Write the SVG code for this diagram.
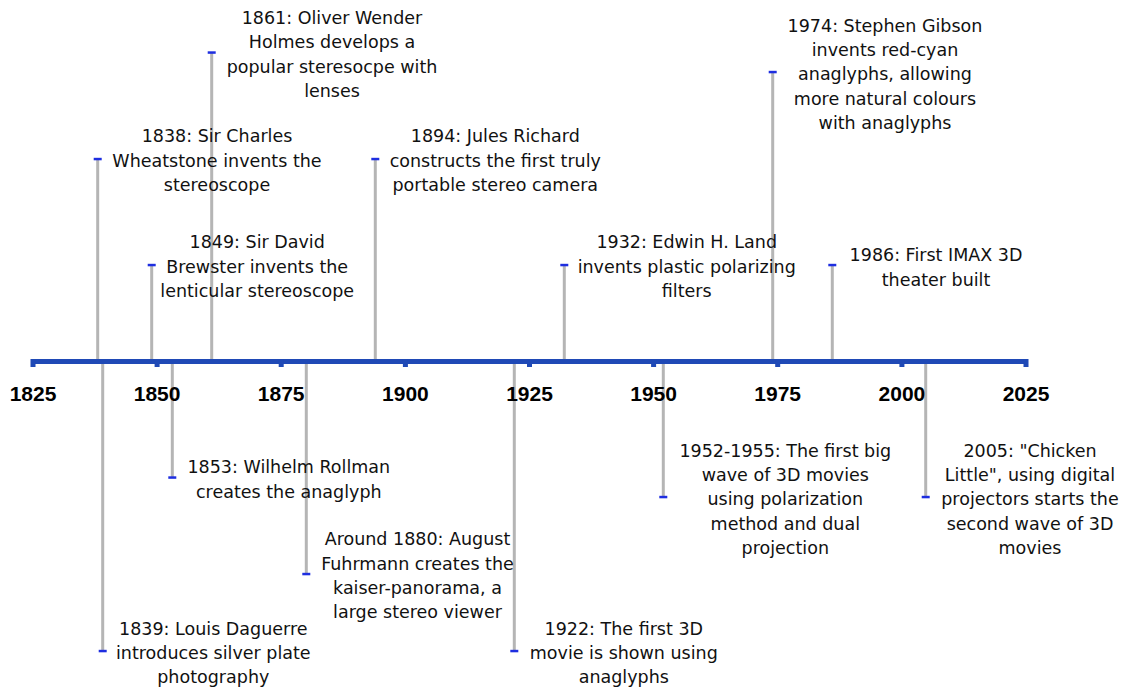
<svg xmlns="http://www.w3.org/2000/svg" width="1128" height="690" viewBox="0 0 1128 690">
  <style>
    .stem { stroke: #b5b5b5; stroke-width: 3; fill: none; }
    .dash { fill: #1e2ee0; }
    .axis { fill: #1f49b6; }
    .year { font-family: "Liberation Sans", Arial, sans-serif; font-weight: bold; font-size: 21px; fill: #000; text-anchor: middle; }
    .lbl { font-family: "DejaVu Sans", Verdana, sans-serif; font-size: 17.5px; fill: #111; text-anchor: middle; }
  </style>
  <rect width="1128" height="690" fill="#fff"/>

  <!-- connectors: stems from the axis to each event -->
  <g id="connectors">
    <line class="stem" x1="97.7" y1="361" x2="97.7" y2="159"/>
    <line class="stem" x1="102.7" y1="362" x2="102.7" y2="651"/>
    <line class="stem" x1="151.7" y1="361" x2="151.7" y2="265"/>
    <line class="stem" x1="172.3" y1="362" x2="172.3" y2="477.5"/>
    <line class="stem" x1="211.7" y1="361" x2="211.7" y2="52.5"/>
    <line class="stem" x1="306.3" y1="362" x2="306.3" y2="574"/>
    <line class="stem" x1="375.3" y1="361" x2="375.3" y2="159"/>
    <line class="stem" x1="514.3" y1="362" x2="514.3" y2="651"/>
    <line class="stem" x1="564.3" y1="361" x2="564.3" y2="265"/>
    <line class="stem" x1="663.3" y1="362" x2="663.3" y2="497"/>
    <line class="stem" x1="772.7" y1="361" x2="772.7" y2="72"/>
    <line class="stem" x1="832.3" y1="361" x2="832.3" y2="265"/>
    <line class="stem" x1="925.7" y1="362" x2="925.7" y2="497"/>
  </g>

  <!-- time axis -->
  <g id="axis">
    <rect class="axis" x="33" y="359" width="993" height="5"/>
    <rect class="axis" x="30.5" y="359" width="5" height="8"/>
    <rect class="axis" x="154.6" y="359" width="5" height="8"/>
    <rect class="axis" x="278.7" y="359" width="5" height="8"/>
    <rect class="axis" x="402.9" y="359" width="5" height="8"/>
    <rect class="axis" x="527" y="359" width="5" height="8"/>
    <rect class="axis" x="651.1" y="359" width="5" height="8"/>
    <rect class="axis" x="775.2" y="359" width="5" height="8"/>
    <rect class="axis" x="899.4" y="359" width="5" height="8"/>
    <rect class="axis" x="1023.5" y="359" width="5" height="8"/>
    <text class="year" x="33" y="401">1825</text>
    <text class="year" x="157.1" y="401">1850</text>
    <text class="year" x="281.2" y="401">1875</text>
    <text class="year" x="405.4" y="401">1900</text>
    <text class="year" x="529.5" y="401">1925</text>
    <text class="year" x="653.6" y="401">1950</text>
    <text class="year" x="777.7" y="401">1975</text>
    <text class="year" x="901.9" y="401">2000</text>
    <text class="year" x="1026" y="401">2025</text>
  </g>

  <g id="e1838">
    <rect class="dash" x="93.7" y="157.8" width="8" height="2.5"/>
    <text class="lbl" x="217" y="142.1">1838: Sir Charles</text>
    <text class="lbl" x="217" y="166.5">Wheatstone invents the</text>
    <text class="lbl" x="217" y="190.9">stereoscope</text>
  </g>
  <g id="e1839">
    <rect class="dash" x="98.7" y="649.8" width="8" height="2.5"/>
    <text class="lbl" x="213.3" y="634.6">1839: Louis Daguerre</text>
    <text class="lbl" x="213.3" y="659">introduces silver plate</text>
    <text class="lbl" x="213.3" y="683.4">photography</text>
  </g>
  <g id="e1849">
    <rect class="dash" x="147.7" y="263.8" width="8" height="2.5"/>
    <text class="lbl" x="257.2" y="248.1">1849: Sir David</text>
    <text class="lbl" x="257.2" y="272.5">Brewster invents the</text>
    <text class="lbl" x="257.2" y="296.9">lenticular stereoscope</text>
  </g>
  <g id="e1853">
    <rect class="dash" x="168.3" y="476.3" width="8" height="2.5"/>
    <text class="lbl" x="288.8" y="473.2">1853: Wilhelm Rollman</text>
    <text class="lbl" x="288.8" y="497.6">creates the anaglyph</text>
  </g>
  <g id="e1861">
    <rect class="dash" x="207.7" y="51.3" width="8" height="2.5"/>
    <text class="lbl" x="332" y="24">1861: Oliver Wender</text>
    <text class="lbl" x="332" y="48.4">Holmes develops a</text>
    <text class="lbl" x="332" y="72.8">popular steresocpe with</text>
    <text class="lbl" x="332" y="97.2">lenses</text>
  </g>
  <g id="e1880">
    <rect class="dash" x="302.3" y="572.8" width="8" height="2.5"/>
    <text class="lbl" x="417.5" y="545.2">Around 1880: August</text>
    <text class="lbl" x="417.5" y="569.6">Fuhrmann creates the</text>
    <text class="lbl" x="417.5" y="594">kaiser-panorama, a</text>
    <text class="lbl" x="417.5" y="618.4">large stereo viewer</text>
  </g>
  <g id="e1894">
    <rect class="dash" x="371.3" y="157.8" width="8" height="2.5"/>
    <text class="lbl" x="495.3" y="142.1">1894: Jules Richard</text>
    <text class="lbl" x="495.3" y="166.5">constructs the first truly</text>
    <text class="lbl" x="495.3" y="190.9">portable stereo camera</text>
  </g>
  <g id="e1922">
    <rect class="dash" x="510.3" y="649.8" width="8" height="2.5"/>
    <text class="lbl" x="623.8" y="634.6">1922: The first 3D</text>
    <text class="lbl" x="623.8" y="659">movie is shown using</text>
    <text class="lbl" x="623.8" y="683.4">anaglyphs</text>
  </g>
  <g id="e1932">
    <rect class="dash" x="560.3" y="263.8" width="8" height="2.5"/>
    <text class="lbl" x="686.7" y="248.1">1932: Edwin H. Land</text>
    <text class="lbl" x="686.7" y="272.5">invents plastic polarizing</text>
    <text class="lbl" x="686.7" y="296.9">filters</text>
  </g>
  <g id="e1952">
    <rect class="dash" x="659.3" y="495.8" width="8" height="2.5"/>
    <text class="lbl" x="785.3" y="456.5">1952-1955: The first big</text>
    <text class="lbl" x="785.3" y="480.9">wave of 3D movies</text>
    <text class="lbl" x="785.3" y="505.3">using polarization</text>
    <text class="lbl" x="785.3" y="529.7">method and dual</text>
    <text class="lbl" x="785.3" y="554.1">projection</text>
  </g>
  <g id="e1974">
    <rect class="dash" x="768.7" y="70.8" width="8" height="2.5"/>
    <text class="lbl" x="885" y="31.6">1974: Stephen Gibson</text>
    <text class="lbl" x="885" y="56">invents red-cyan</text>
    <text class="lbl" x="885" y="80.4">anaglyphs, allowing</text>
    <text class="lbl" x="885" y="104.8">more natural colours</text>
    <text class="lbl" x="885" y="129.2">with anaglyphs</text>
  </g>
  <g id="e1986">
    <rect class="dash" x="828.3" y="263.8" width="8" height="2.5"/>
    <text class="lbl" x="936" y="261.3">1986: First IMAX 3D</text>
    <text class="lbl" x="936" y="285.7">theater built</text>
  </g>
  <g id="e2005">
    <rect class="dash" x="921.7" y="495.8" width="8" height="2.5"/>
    <text class="lbl" x="1030" y="456.5">2005: "Chicken</text>
    <text class="lbl" x="1030" y="480.9">Little", using digital</text>
    <text class="lbl" x="1030" y="505.3">projectors starts the</text>
    <text class="lbl" x="1030" y="529.7">second wave of 3D</text>
    <text class="lbl" x="1030" y="554.1">movies</text>
  </g>
</svg>
